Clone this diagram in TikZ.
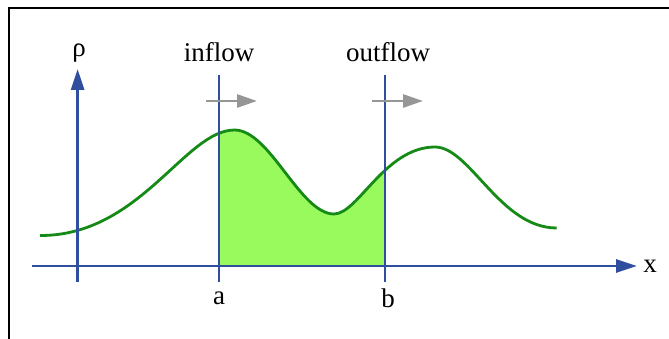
\documentclass[tikz,border=0pt]{standalone}
\usepackage{fontspec}
\setmainfont{Liberation Serif}
\usetikzlibrary{arrows.meta}
\definecolor{axisblue}{RGB}{47,78,158}
\definecolor{curvegreen}{RGB}{22,138,22}
\definecolor{fillgreen}{RGB}{152,250,92}
\definecolor{flowgray}{RGB}{150,150,150}
\tikzset{
  axisline/.style={axisblue, line width=2.8pt},
  cutline/.style={axisblue, line width=2.2pt},
  flowarrow/.style={flowgray, line width=2.8pt, -{Triangle[length=20pt,width=13pt]}},
  lbl/.style={font=\fontsize{27}{30}\selectfont, inner sep=0pt},
}
\def\curve{(40,235.5) .. controls (140,236) and (185,130) .. (234.6,130)
  .. controls (270,130) and (300,214) .. (334,214)
  .. controls (358,214) and (385,147) .. (435,147)
  .. controls (470,147) and (500,228) .. (556.7,228)}
\begin{document}
\begin{tikzpicture}[x=1pt,y=-1pt]
\useasboundingbox (0,0) rectangle (669,339);
\fill[white] (0,0) rectangle (669,339);
% frame (top and left only)
\draw[black, line width=2pt] (9,339) -- (9,8) -- (669,8);
% coordinates
\coordinate (xs) at (32,266);
\coordinate (xe) at (637,266);
\coordinate (ys) at (77.6,282);
\coordinate (ye) at (77.6,69);
\coordinate (at) at (219,75);
\coordinate (ab) at (219,282);
\coordinate (bt) at (385,75);
\coordinate (bb) at (385,282);
\coordinate (ia) at (206,101);
\coordinate (ib) at (257,101);
\coordinate (oa) at (372,101);
\coordinate (ob) at (423,101);
% filled area
\begin{scope}
\clip (219,0) rectangle (385,266);
\fill[fillgreen] \curve -- (556.7,266) -- (40,266) -- cycle;
\end{scope}
% curve
\draw[curvegreen, line width=2.8pt] \curve;
% axes
\draw[axisline, -{Triangle[length=21pt,width=13pt]}] (xs) -- (xe);
\draw[axisline, -{Triangle[length=21pt,width=13pt]}] (ys) -- (ye);
% cut lines
\draw[cutline] (at) -- (ab);
\draw[cutline] (bt) -- (bb);
% flow arrows
\draw[flowarrow] (ia) -- (ib);
\draw[flowarrow] (oa) -- (ob);
% labels
\node[lbl] (rho) at (79,53) {ρ};
\node[lbl] (xl) at (650,266) {x};
\node[lbl] (inl) at (219,52) {inflow};
\node[lbl] (outl) at (388,52) {outflow};
\node[lbl] (al) at (219,298) {a};
\node[lbl] (bl) at (388,298) {b};
\end{tikzpicture}
\end{document}
